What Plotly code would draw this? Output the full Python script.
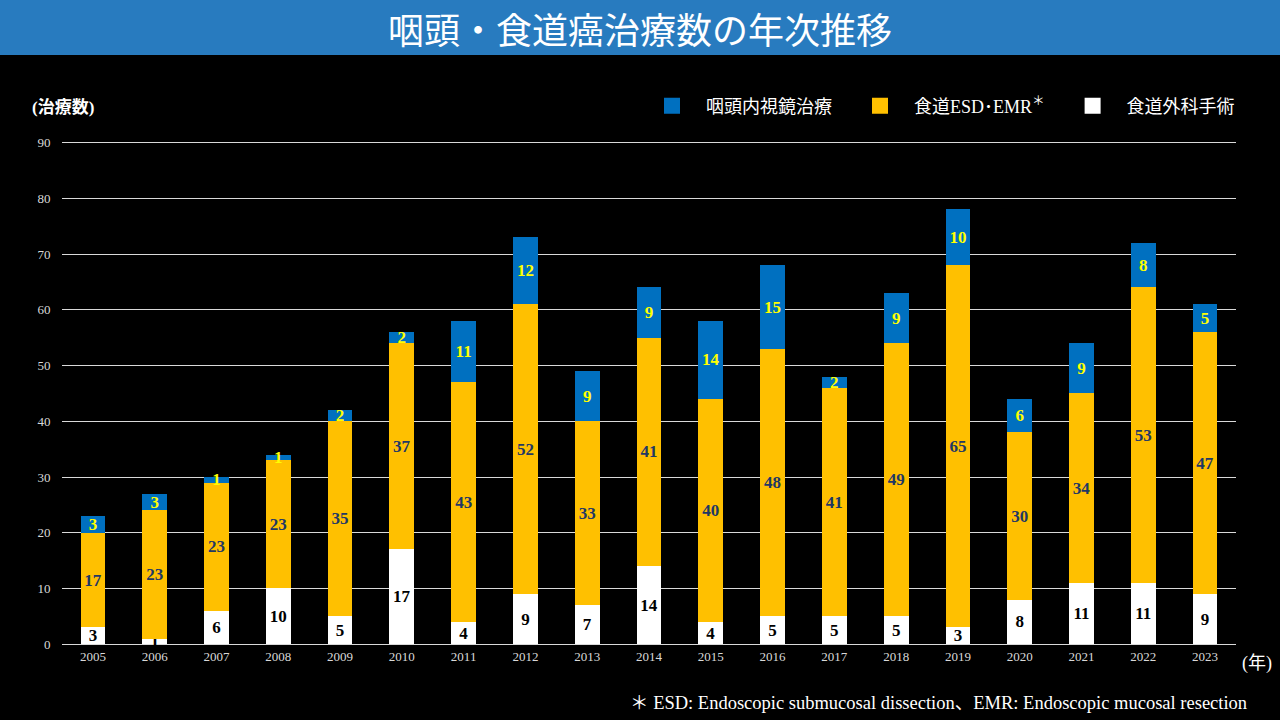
import plotly.graph_objects as go

# 年次データ
years = [str(y) for y in range(2005, 2024)]
surgery = [3, 1, 6, 10, 5, 17, 4, 9, 7, 14, 4, 5, 5, 5, 3, 8, 11, 11, 9]
esd_emr = [17, 23, 23, 23, 35, 37, 43, 52, 33, 41, 40, 48, 41, 49, 65, 30, 34, 53, 47]
pharynx = [3, 3, 1, 1, 2, 2, 11, 12, 9, 9, 14, 15, 2, 9, 10, 6, 9, 8, 5]

W, H = 1280, 720
SERIF = "Liberation Serif, Times New Roman, Noto Sans CJK JP, serif"
CJK = "Noto Sans CJK JP, sans-serif"
NB = "\u00a0"

# plot box in pixels
L, R, T, B = 62, 1236, 137, 647


def px_x(x):
    return (x - L) / (R - L)


def px_y(y):
    return (B - y) / (B - T)


fig = go.Figure()

series = [
    ("食道外科手術", surgery, "#ffffff", "#000000"),
    ("食道ESD･EMR<sup>＊</sup>", esd_emr, "#ffc000", "#1f3864"),
    ("咽頭内視鏡治療", pharynx, "#0070c0", "#ffff00"),
]
for name, vals, color, tcolor in series:
    fig.add_trace(go.Bar(
        x=years,
        y=vals,
        name=name,
        showlegend=False,
        marker=dict(color=color, line=dict(width=0)),
        text=vals,
        textposition="inside",
        insidetextanchor="middle",
        textangle=0,
        constraintext="none",
        textfont=dict(family=SERIF, size=17, color=tcolor, weight="bold"),
    ))

# 凡例用の四角マーカー
for i, (name, vals, color, tcolor) in enumerate(series):
    tail = "" if i == 0 else NB * 4
    fig.add_trace(go.Scatter(
        x=[None], y=[None], mode="markers", name=NB * 2 + name + tail,
        marker=dict(symbol="square", size=17, color=color),
    ))

fig.update_layout(
    width=W,
    height=H,
    barmode="stack",
    bargap=0.6,
    paper_bgcolor="#000000",
    plot_bgcolor="#000000",
    margin=dict(l=L, r=W - R, t=T, b=H - B, autoexpand=False),
    showlegend=True,
    uniformtext=dict(minsize=17, mode="show"),
    legend=dict(
        orientation="h",
        traceorder="reversed",
        x=px_x(1240),
        xanchor="right",
        y=px_y(106),
        yanchor="middle",
        font=dict(family=SERIF, size=18, color="#ffffff"),
        itemwidth=40,
        bgcolor="rgba(0,0,0,0)",
    ),
    xaxis=dict(
        tickfont=dict(family=SERIF, size=13, color="#d9d9d9"),
        showgrid=False,
        ticks="",
    ),
    yaxis=dict(
        range=[-0.5, 91],
        dtick=10,
        tickfont=dict(family=SERIF, size=13, color="#d9d9d9"),
        gridcolor="#d9d9d9",
        gridwidth=1,
        zeroline=True,
        zerolinecolor="#d9d9d9",
        zerolinewidth=1,
        ticks="outside",
        ticklen=8,
        tickcolor="rgba(0,0,0,0)",
    ),
    shapes=[
        dict(type="rect", xref="paper", yref="paper",
             x0=px_x(0), x1=px_x(W), y0=px_y(55), y1=px_y(0),
             fillcolor="#287bbf", line=dict(width=0), layer="below"),
    ],
    annotations=[
        dict(text="咽頭・食道癌治療数の年次推移", xref="paper", yref="paper",
             x=px_x(640), y=px_y(28), showarrow=False, xanchor="center", yanchor="middle",
             font=dict(family=CJK, size=36, color="#ffffff")),
        dict(text="<b>(治療数)</b>", xref="paper", yref="paper",
             x=px_x(30), y=px_y(107), showarrow=False, xanchor="left", yanchor="middle",
             font=dict(family=SERIF, size=17, color="#ffffff")),
        dict(text="(年)", xref="paper", yref="paper",
             x=px_x(1274), y=px_y(663), showarrow=False, xanchor="right", yanchor="middle",
             font=dict(family=SERIF, size=18, color="#ffffff")),
        dict(text="＊ ESD: Endoscopic submucosal dissection、EMR: Endoscopic mucosal resection",
             xref="paper", yref="paper",
             x=px_x(1249), y=px_y(703), showarrow=False, xanchor="right", yanchor="middle",
             font=dict(family=SERIF, size=18.5, color="#ffffff")),
    ],
)

fig.write_html("out.html", config={"displayModeBar": False},
               post_script="document.body.style.margin='0';")
